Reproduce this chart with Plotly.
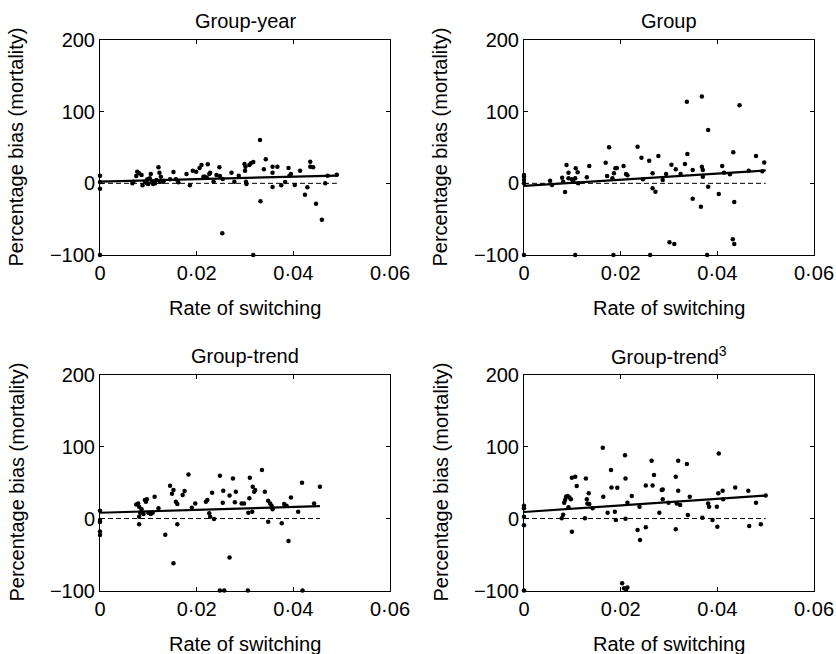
import plotly.graph_objects as go

# ---------------- data ----------------
titles = ["Group-year", "Group", "Group-trend", "Group-trend<sup>3</sup>"]
x_tick_vals = [0, 0.02, 0.04, 0.06]
x_tick_text = ["0", "0·02", "0·04", "0·06"]
y_tick_vals = [-100, 0, 100, 200]
y_tick_text = ["−100", "0", "100", "200"]
x_label = "Rate of switching"
y_label = "Percentage bias (mortality)"

gy_x = [0, 0, 0, 0, 0.0067, 0.0069, 0.0075, 0.0077, 0.0081, 0.0086, 0.0088, 0.0093, 0.0097, 0.0098,
        0.0100, 0.0103, 0.0105, 0.0108, 0.0110, 0.0114, 0.0117, 0.0121, 0.0123, 0.0124, 0.0126, 0.0130,
        0.0132, 0.0145, 0.0152, 0.0157, 0.0162, 0.0179, 0.0186, 0.0192, 0.0199, 0.0206, 0.0210, 0.0214,
        0.0217, 0.0221, 0.0223, 0.0226, 0.0228, 0.0235, 0.0241, 0.0247, 0.0248, 0.0254, 0.0253, 0.0272,
        0.0278, 0.0287, 0.0299, 0.0300, 0.0301, 0.0302, 0.0303, 0.0309, 0.0312, 0.0317, 0.0317, 0.0331,
        0.0332, 0.0339, 0.0343, 0.0357, 0.0357, 0.0357, 0.0367, 0.0375, 0.0383, 0.0390, 0.0392, 0.0395,
        0.0403, 0.0414, 0.0424, 0.0429, 0.0435, 0.0435, 0.0441, 0.0447, 0.0459, 0.0466, 0.0471, 0.0490]
gy_y = [10.7, 2, -7.4, -100, 0, 2.3, 10.2, 16.3, 14, 11.6, -2.8, 2.3, 0, 5.6,
        -0.9, 7, 13, 1.9, -0.9, 0, 4.7, 22.3, 14.9, 2.3, 9.3, 2.3,
        3.7, 5.6, 15.8, 5.6, 1.4, 13, -2.8, 17.7, 16.3, 21.4, 25.6, 9.3,
        9.3, 7.9, 26.5, 13, 14.9, 2.3, 11.6, 22.3, 10.2, 6, -69.8, 14.9,
        2.3, 10.7, 27, 17.7, 23.3, 2.3, -0.9, 25.6, 27.9, 29.8, -100, 60.5,
        -25.1, 19.5, 33.5, 23.3, 14.9, -5.1, 23.3, -2.8, 1.9, 21.4, 10.7, 13,
        -2.3, 17.7, -15.8, -5.6, 30.2, 23.3, 22.3, -28.4, -50.7, 0, 10.7, 12]

g_x = [0, 0, 0, 0, 0, 0.0054, 0.0058, 0.0079, 0.0081, 0.0085, 0.0088, 0.0092, 0.0092, 0.0099, 0.0102,
       0.0106, 0.0106, 0.0107, 0.0111, 0.0112, 0.0130, 0.0135, 0.0169, 0.0172, 0.0176, 0.0183, 0.0185,
       0.0186, 0.0189, 0.0192, 0.0206, 0.0211, 0.0214, 0.0235, 0.0243, 0.0246, 0.0259, 0.0261, 0.0266,
       0.0266, 0.0272, 0.0278, 0.0287, 0.0294, 0.0301, 0.0305, 0.0311, 0.0314, 0.0324, 0.0333, 0.0337,
       0.0338, 0.0349, 0.0349, 0.0366, 0.0368, 0.0368, 0.0370, 0.0370, 0.0381, 0.0381, 0.0379, 0.0403,
       0.0410, 0.0414, 0.0426, 0.0433, 0.0432, 0.0435, 0.0435, 0.0446, 0.0465, 0.0480, 0.0493, 0.0497]
g_y = [11.6, 9.3, 4.5, 0, -100, 3.7, -2.3, 7.9, 2.3, -12.1, 25.6, 14.9, 7, 5.6, 2.3,
       7, -100, 20.9, 15.3, 0, 8.4, 24.2, 28.8, 10.2, 50.2, 7, -100,
       14, 20.9, 21.4, 24.2, 13, 11.2, 51.2, 35.8, 5.6, 31.6, -100, 14,
       -7, -11.6, 38.1, 4.7, 13, -82.3, 26, -84.7, 19.5, 13, 27, 114,
       40.9, 18.6, -21.4, -32.6, 121, 23.3, 18.6, 9.3, 74.4, -4.7, -100, -14.9,
       24.2, 14.9, 12.6, 43.3, -78.1, -84.7, -26, 109, 17.7, 38, 17, 29]

gt_x = [0, 0, 0, 0, 0, 0.0075, 0.0079, 0.0081, 0.0081, 0.0083, 0.0081, 0.0086, 0.0090, 0.0093, 0.0095,
        0.0097, 0.0100, 0.0105, 0.0109, 0.0113, 0.0121, 0.0135, 0.0145, 0.0149, 0.0152, 0.0152, 0.0157,
        0.0160, 0.0160, 0.0171, 0.0175, 0.0183, 0.0190, 0.0197, 0.0219, 0.0222, 0.0226, 0.0228, 0.0232,
        0.0236, 0.0248, 0.0248, 0.0254, 0.0255, 0.0257, 0.0268, 0.0268, 0.0275, 0.0279, 0.0281, 0.0293,
        0.0298, 0.0306, 0.0307, 0.0309, 0.0310, 0.0315, 0.0316, 0.0319, 0.0321, 0.0335, 0.0341, 0.0348,
        0.0348, 0.0352, 0.0355, 0.0357, 0.0376, 0.0381, 0.0386, 0.0390, 0.0395, 0.0410, 0.0418, 0.0419,
        0.0443, 0.0455]
gt_y = [10.9, -2, -4.9, -18, -22.9, 19.6, 21, 16.4, 2.5, 8.1, -8.1, 12.7, 6.2, 25.6, 23.3,
        26.6, 8.1, 6.2, 8.1, 30.3, 14.1, -22.4, 45.5, 34.4, 39.5, -62.2, 23.3,
        20.1, -8.1, 32.6, 38.1, 61.2, 15, 21, 23.3, 25.6, 7.2, 2.5, 35.8,
        -0.7, 59.4, -100, 21.9, 38.6, -100, 32.1, -54.3, 55.7, 22.4, 37.2, 21,
        21, -100, 8.1, 28, 56.6, 9.5, 44.1, 37.2, 39.5, 67.2, 37.2, 24.7,
        -4.4, 21, 17.8, 12.7, -6.7, 20.1, 17.8, -31.2, 29.3, 9.5, 49.7, -100,
        21, 44.1]

gt3_x = [0, 0, 0, 0, 0, 0.0078, 0.0081, 0.0083, 0.0085, 0.0087, 0.0090, 0.0092, 0.0094, 0.0097, 0.0099,
         0.0099, 0.0106, 0.0109, 0.0126, 0.0128, 0.0130, 0.0131, 0.0134, 0.0135, 0.0142, 0.0163, 0.0164,
         0.0173, 0.0180, 0.0181, 0.0188, 0.0190, 0.0193, 0.0203, 0.0207, 0.0211, 0.0214, 0.0209, 0.0210,
         0.0210, 0.0214, 0.0223, 0.0235, 0.0239, 0.0240, 0.0252, 0.0252, 0.0264, 0.0266, 0.0269, 0.0280,
         0.0285, 0.0287, 0.0287, 0.0299, 0.0314, 0.0314, 0.0316, 0.0319, 0.0319, 0.0323, 0.0337, 0.0339,
         0.0343, 0.0369, 0.0381, 0.0383, 0.0390, 0.0399, 0.0400, 0.0402, 0.0403, 0.0411, 0.0412, 0.0437,
         0.0464, 0.0466, 0.0480, 0.0490, 0.0500]
gt3_y = [17.8, 14.1, 2.5, -9.5, -100, 0.2, 5.3, 22, 25.6, 30.3, 31.2, 15.5, 29.3, 26.6, -18.3,
         56.6, 58, 45.1, 0.2, 55.7, 26.6, 21, 34.9, 20.1, 14.1, 98.2, 30.3,
         8.1, 67.2, 43.2, 9.5, -2.1, 42.7, -89.8, -96.8, -99, -95.9, 88, 55.7,
         -0.2, 22, 31.2, -15.9, 16.4, -29.8, -12.2, 46, 80.2, 46, 60.3, 8.1,
         39.5, 40.4, 26.6, 22, 58, -15, 21, 80.2, 38.6, 18.7, 75.6, 4.9,
         30.3, 1.2, 21, 16.4, -2.1, 16.4, -11.3, 34.9, 90.3, 38.6, 26.6, 43.2,
         38.6, -10.4, 22, -8, 32]

# fitted regression lines (intercept, slope, x-extent)
fit_intercept = [2.5, -3.5, 8.0, 9.0]
fit_slope = [170, 430, 200, 457]
fit_xmax = [0.049, 0.050, 0.0455, 0.050]

series_x = [gy_x, g_x, gt_x, gt3_x]
series_y = [gy_y, g_y, gt_y, gt3_y]

# ---------------- layout geometry (page pixels) ----------------
W, H = 836, 654
panels = [  # left, right, top, bottom in page pixels
    (100, 390, 40, 255),
    (524, 814, 40, 255),
    (100, 390, 374.5, 590.5),
    (524, 814, 374.5, 590.5),
]
FONT = "Liberation Sans, Arial, Helvetica, sans-serif"
FS = 20


def px(x):
    return x / W


def py(y):
    return 1 - y / H


fig = go.Figure()
annotations = []
for i in range(4):
    xa = "x" if i == 0 else f"x{i+1}"
    ya = "y" if i == 0 else f"y{i+1}"
    l, r, t, b = panels[i]
    # zero reference line
    fig.add_trace(go.Scatter(x=[0, fit_xmax[i]], y=[0, 0], mode="lines",
                             line=dict(color="black", width=1, dash="5px,3px"),
                             xaxis=xa, yaxis=ya, showlegend=False, hoverinfo="skip"))
    # regression line
    xs = [0, fit_xmax[i]]
    ys = [fit_intercept[i] + fit_slope[i] * v for v in xs]
    fig.add_trace(go.Scatter(x=xs, y=ys, mode="lines",
                             line=dict(color="black", width=2.2),
                             xaxis=xa, yaxis=ya, showlegend=False, hoverinfo="skip"))
    # points
    fig.add_trace(go.Scatter(x=series_x[i], y=series_y[i], mode="markers",
                             marker=dict(color="black", size=4.5),
                             cliponaxis=False,
                             xaxis=xa, yaxis=ya, showlegend=False))
    axis_common = dict(showline=True, linecolor="black", linewidth=1, mirror="ticks",
                       ticks="inside", ticklen=4, tickcolor="black", tickwidth=1,
                       showgrid=False, zeroline=False, automargin=False,
                       tickfont=dict(family=FONT, size=FS, color="black"))
    fig.layout[("xaxis" if i == 0 else f"xaxis{i+1}")] = dict(
        axis_common, domain=[px(l), px(r)], range=[0, 0.06],
        tickvals=x_tick_vals, ticktext=x_tick_text, anchor=ya)
    fig.layout[("yaxis" if i == 0 else f"yaxis{i+1}")] = dict(
        axis_common, domain=[py(b), py(t)], range=[-100, 200],
        tickvals=y_tick_vals, ticktext=y_tick_text, anchor=xa)
    cx = (l + r) / 2
    annotations.append(dict(text=titles[i], x=px(cx), y=py(t - 19), xref="paper", yref="paper",
                            showarrow=False, xanchor="center", yanchor="middle",
                            font=dict(family=FONT, size=FS, color="black")))
    annotations.append(dict(text=x_label, x=px(cx), y=py(b + 53), xref="paper", yref="paper",
                            showarrow=False, xanchor="center", yanchor="middle",
                            font=dict(family=FONT, size=FS, color="black")))
    annotations.append(dict(text=y_label, x=px(l - 84), y=py((t + b) / 2), xref="paper",
                            yref="paper", showarrow=False, textangle=-90,
                            xanchor="center", yanchor="middle",
                            font=dict(family=FONT, size=FS, color="black")))

fig.update_layout(template="none", width=W, height=H,
                  margin=dict(l=0, r=0, t=0, b=0, pad=0, autoexpand=False),
                  paper_bgcolor="white", plot_bgcolor="white",
                  annotations=annotations, showlegend=False)
fig.write_html("out.html", config={"displayModeBar": False},
               post_script="document.body.style.margin='0';document.body.style.overflow='hidden';")
